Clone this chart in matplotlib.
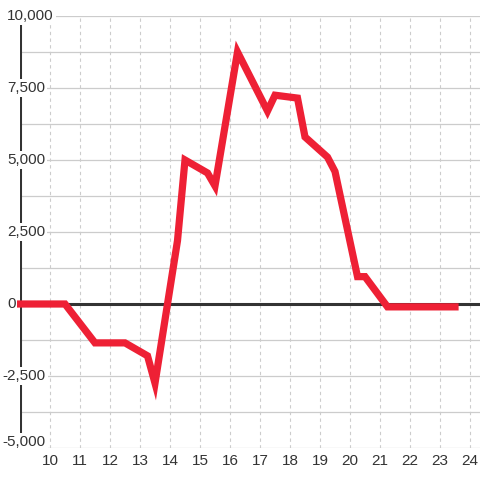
import matplotlib
matplotlib.use("Agg")
import matplotlib.pyplot as plt
import matplotlib.transforms as mtransforms

plt.rcParams['font.family'] = ['Liberation Sans', 'DejaVu Sans']

hours = [9.0, 10.5, 11.5, 12.5, 13.25, 13.5, 14.25, 14.5, 15.25, 15.5, 16.25,
         17.25, 17.5, 18.25, 18.5, 19.25, 19.5, 20.25, 20.5, 21.25, 23.5]
values = [0, 0, -1350, -1350, -1800, -2750, 2200, 5000, 4550, 4100, 8750,
          6700, 7250, 7150, 5800, 5100, 4600, 950, 950, -100, -100]
x_ticks = list(range(10, 25))
y_labeled = [10000, 7500, 5000, 2500, 0, -2500, -5000]
y_grid = [-5000, -3750, -2500, -1250, 0, 1250, 2500, 3750, 5000, 6250, 7500, 8750, 10000]

W = H = 480
fig = plt.figure(figsize=(4.8, 4.8), dpi=100)
fig.patch.set_facecolor('white')
ax = fig.add_axes([20 / W, 32 / H, 460 / W, 432 / H])
ax.set_xlim(9.0, 9.0 + 460 / 30)
ax.set_ylim(-5000, 10000)
ax.axis('off')

grid_c = '#cccccc'
dark = '#333333'
for y in y_grid:
    ax.axhline(y, color=grid_c, lw=0.9, zorder=1)
for x in x_ticks:
    ax.axvline(x, color=grid_c, lw=0.8, ls=(0, (3, 3)), zorder=1)

ax.axvline(9.0, color=dark, lw=2.2, zorder=3)
ax.axhline(0, color=dark, lw=2.2, zorder=3)

ax.plot(hours, values, color='#ee2035', lw=5.2, solid_joinstyle='miter',
        solid_capstyle='projecting', zorder=4, clip_on=False)

ytr = ax.get_yaxis_transform()
for y in y_labeled:
    s = f"{y:,}"
    xpos = (7 - 20) / 460 if y >= 0 else (2.5 - 20) / 460
    tr = ytr
    if y == -5000:
        tr = ytr + mtransforms.ScaledTranslation(0, 6 / 100, fig.dpi_scale_trans)
    ax.text(xpos, y, s, transform=tr, ha='left', va='center', fontsize=11,
            color=dark, zorder=6, clip_on=False,
            bbox=dict(facecolor='white', edgecolor='none', pad=1.4))

xtr = ax.get_xaxis_transform()
for x in x_ticks:
    ax.text(x, -6 / 432, str(x), transform=xtr, ha='center', va='top',
            fontsize=11, color=dark, clip_on=False)

fig.savefig('out.png', dpi=100, facecolor='white')
